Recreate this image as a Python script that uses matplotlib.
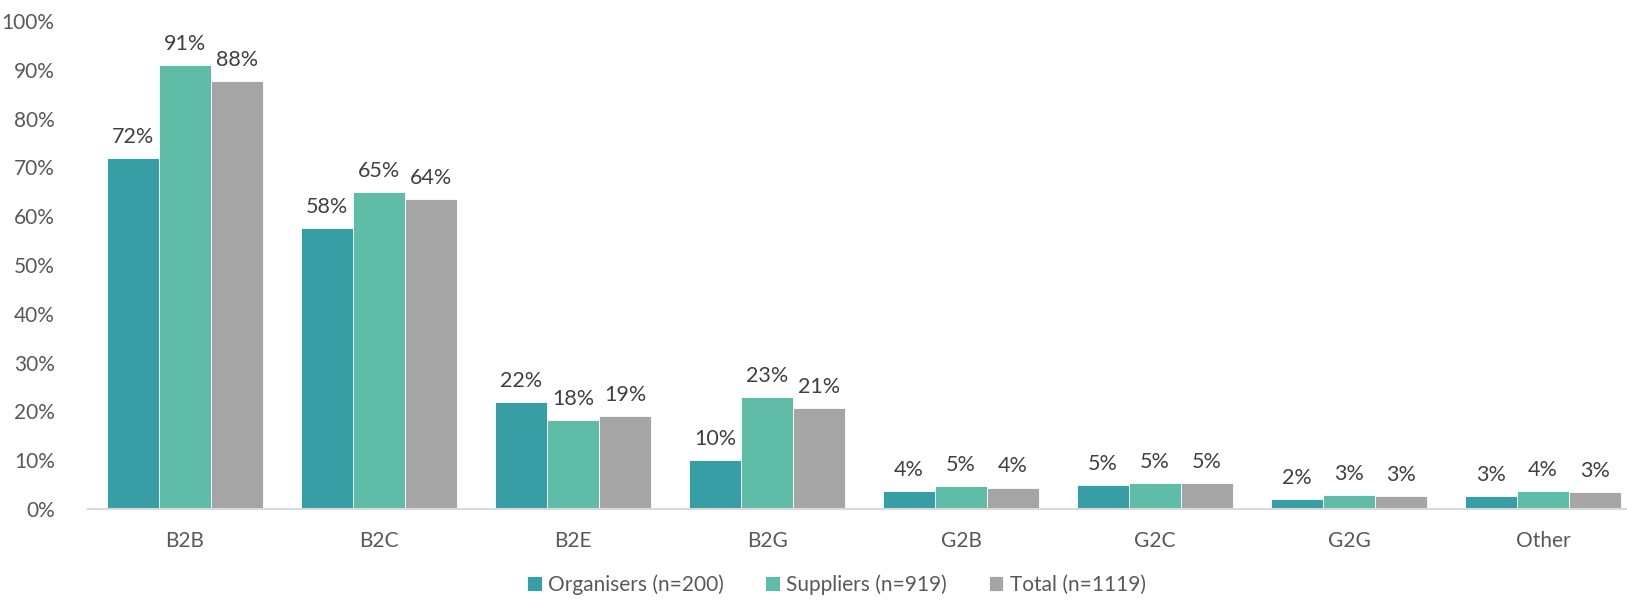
import numpy as np
import matplotlib
matplotlib.use("Agg")
import matplotlib.pyplot as plt

plt.rcParams['font.family'] = ['Lato', 'DejaVu Sans']

categories = ['B2B', 'B2C', 'B2E', 'B2G', 'G2B', 'G2C', 'G2G', 'Other']
organisers = [72.0, 57.6, 22.0, 10.0, 3.6, 5.0, 2.0, 2.6]
suppliers = [91.0, 65.0, 18.3, 23.0, 4.7, 5.4, 2.9, 3.6]
total = [87.7, 63.6, 19.0, 20.7, 4.4, 5.3, 2.7, 3.4]
series_names = ['Organisers (n=200)', 'Suppliers (n=919)', 'Total (n=1119)']
colors = ['#369EA4', '#5EBCA7', '#A5A5A5']

fig = plt.figure(figsize=(16.27, 6.01), dpi=100)
ax = fig.add_axes([0.0541, 0.153, 0.954, 0.812])

x = np.arange(len(categories))
w = 0.268
for k, (vals, name, c) in enumerate(zip([organisers, suppliers, total], series_names, colors)):
    bars = ax.bar(x + (k - 1) * w, vals, w, color=c, label=name,
                  edgecolor='white', linewidth=0.6)
    for b, v in zip(bars, vals):
        ax.annotate('{:.0f}%'.format(v), (b.get_x() + b.get_width() / 2, v),
                    xytext=(0, 8), textcoords='offset points',
                    ha='center', va='bottom', fontsize=15.5, color='#404040')

ax.set_xlim(-0.5, len(categories) - 0.5)
ax.set_ylim(0, 100)
ax.set_yticks(np.arange(0, 101, 10))
ax.set_yticklabels(['{}%'.format(t) for t in range(0, 101, 10)])
ax.set_xticks(x)
ax.set_xticklabels(categories)
ax.tick_params(axis='y', length=0, pad=24, labelsize=15, labelcolor='#595959')
ax.tick_params(axis='x', length=0, pad=16, labelsize=15, labelcolor='#595959')

for s in ['top', 'right', 'left']:
    ax.spines[s].set_visible(False)
ax.spines['bottom'].set_color('#D9D9D9')
ax.spines['bottom'].set_linewidth(1.5)

fig.legend(loc='center', bbox_to_anchor=(0.514, 0.027), ncol=3, frameon=False,
           fontsize=15, handlelength=0.7, handleheight=0.7, handletextpad=0.3,
           columnspacing=2.0, labelcolor='#595959')

fig.savefig('out.png', dpi=100)
